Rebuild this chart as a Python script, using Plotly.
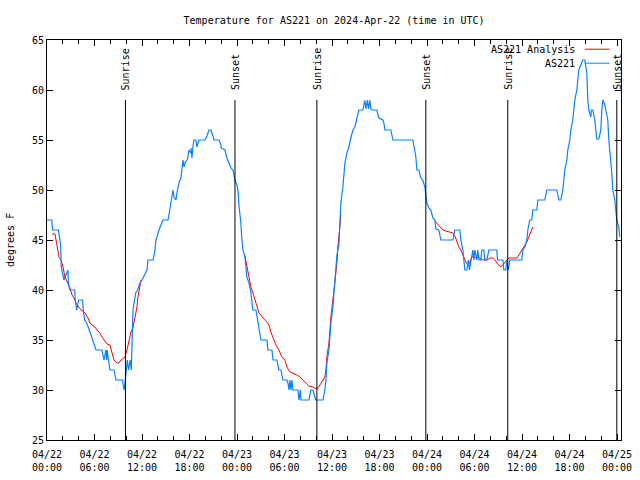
import pandas as pd
import plotly.graph_objects as go

BASE = pd.Timestamp("2024-04-22 00:00")

# Observations (hours since 04/22 00:00 UTC, temperature degF)
obs_hours = [0.0, 0.6, 0.7, 1.43, 1.73, 1.8, 2.15, 2.65, 2.69, 2.9, 3.5, 3.57, 3.75, 4.0, 4.5, 4.58,
             4.76, 5.0, 5.34, 5.77, 6.19, 6.94, 7.2, 7.45, 7.53, 7.6, 7.78, 7.95, 8.46, 8.71, 9.55,
             9.72, 9.9, 10.14, 10.3, 10.5, 10.65, 10.73, 10.86, 11.2, 11.45, 11.74, 12.0, 12.63, 12.75,
             13.4, 13.64, 13.76, 14.14, 14.65, 15.28, 15.4, 15.66, 15.78, 15.91, 16.04, 16.29, 16.41,
             16.67, 16.92, 17.05, 17.17, 17.3, 17.42, 17.68, 17.8, 17.93, 18.18, 18.2, 18.31, 18.43,
             18.56, 18.8, 18.94, 19.07, 19.19, 19.95, 20.2, 20.45, 20.71, 20.96, 21.09, 21.72, 21.97,
             22.0, 22.47, 22.73, 22.85, 22.98, 23.23, 23.48, 23.61, 23.74, 23.99, 24.12, 24.24, 24.49,
             24.62, 24.75, 25.0, 25.13, 25.25, 25.51, 25.76, 25.88, 26.01, 26.39, 26.52, 26.77, 26.89,
             27.02, 27.78, 27.9, 28.41, 28.54, 29.04, 29.29, 29.55, 29.8, 30.3, 30.43, 30.56, 30.68,
             30.81, 30.93, 31.06, 31.69, 31.82, 32.0, 32.07, 33.08, 33.33, 33.59, 33.84, 33.96, 34.85,
             35.1, 35.23, 35.35, 35.61, 35.73, 35.86, 36.11, 36.36, 36.49, 36.62, 36.87, 36.99, 37.12,
             37.37, 37.5, 37.63, 37.88, 38.01, 38.13, 38.38, 38.51, 38.64, 38.89, 39.02, 39.14, 39.39,
             39.9, 40.03, 40.15, 40.28, 40.47, 40.6, 40.78, 40.91, 41.04, 41.67, 41.92, 42.42, 42.55,
             42.68, 43.43, 43.56, 43.69, 46.21, 46.46, 46.59, 46.72, 46.97, 47.22, 47.47, 47.73, 47.85,
             47.98, 48.23, 48.48, 48.74, 48.99, 49.12, 49.49, 49.75, 51.26, 51.52, 52.15, 52.27, 52.53,
             52.65, 52.78, 53.03, 53.22, 53.35, 53.54, 53.79, 53.91, 54.04, 54.29, 54.42, 54.55, 54.8,
             54.92, 55.18, 55.3, 55.56, 55.81, 56.82, 56.9, 57.58, 57.7, 57.95, 58.08, 58.27, 58.46,
             59.97, 60.1, 60.35, 60.61, 60.73, 60.98, 61.24, 61.36, 61.87, 62.0, 62.88, 63.13, 64.39,
             64.65, 64.9, 65.15, 65.28, 65.4, 65.66, 65.78, 66.04, 66.16, 66.41, 66.54, 66.67, 66.92,
             67.05, 67.17, 67.42, 67.68, 67.93, 68.18, 68.31, 68.43, 68.69, 68.75, 68.94, 69.19, 69.32,
             69.44, 69.7, 69.95, 70.08, 70.2, 70.45, 70.58, 70.83, 70.96, 71.21, 71.34, 71.46, 71.72,
             71.84, 71.97, 72.22, 72.35]
obs_temps = [47, 47, 46, 46, 44.5, 42.3, 41, 42, 40.7, 40, 40, 39, 38, 39, 39, 38,
             37, 36.7, 36, 35, 34, 34, 33, 34, 33, 34, 32.7, 32, 32, 31, 31,
             30, 31, 33, 32, 33, 32, 35, 38, 39.7, 40, 40.7, 41, 42, 43,
             43, 44, 45, 46, 47, 47, 47.5, 48.7, 49.7, 50, 49.3, 49, 49.7,
             50.7, 51.2, 52, 53, 52.3, 52.7, 53, 53.3, 54, 53.7, 54.2, 53.2, 54.3,
             55, 55, 54.3, 54.7, 55, 55, 55.4, 56, 56, 55.4, 55, 55, 54.5,
             54.2, 54, 53.2, 53, 52.7, 52.2, 52, 51.5, 51, 50.5, 50, 48.5, 46.7,
             45, 44, 43.3, 42, 41.3, 40.7, 39.7, 38.8, 38, 38, 37.3, 36.3, 35.8,
             35, 35, 34, 34, 33, 33, 32, 32, 31, 31, 30.7, 30, 31,
             30, 31, 30, 30, 29, 30, 29, 29, 30, 30, 29.3, 29, 29,
             30, 31, 32.7, 34, 35.3, 36.7, 38.3, 40.7, 42, 43.5, 44.5, 46.7, 48.7,
             50.3, 51.7, 52.7, 53.7, 54, 54.3, 55.2, 55.8, 56, 56.3, 56.8, 57.3, 58,
             58, 58.7, 59, 58.1, 59, 58.1, 59, 58.1, 58, 58, 57.2, 57, 56.7,
             56, 56, 55.5, 55, 55, 54, 53.3, 52, 52, 51.2, 51, 50.3, 49.3,
             48.7, 48.2, 48, 47.2, 47, 46.1, 46, 45, 45, 46, 46, 45, 44,
             43, 42, 42, 43, 42, 43, 44, 43, 44, 43, 44, 43, 43,
             44, 44, 43, 43, 44, 44, 43, 43, 42, 42, 43, 42, 43,
             43, 44, 44.3, 45, 46, 47, 47, 48, 48, 49, 49, 50, 50,
             49, 49, 50, 51, 52, 53, 54, 55, 56, 57, 58, 59, 60,
             61, 62, 62.5, 63, 63, 61.7, 59, 58, 57.3, 58, 58, 57, 56,
             55.1, 55.1, 56, 58, 59, 58.5, 58, 57, 55, 53, 51.7, 50, 49,
             48, 47, 46.3, 45.3]

# Analysis (three separate runs)
ana1_hours = [0.63, 1.01, 1.14, 1.26, 1.52, 1.77, 2.02, 2.27, 2.65, 2.9, 3.16, 3.41, 3.66, 4.04, 4.29,
              4.67, 4.8, 5.18, 5.43, 5.68, 6.06, 6.31, 6.69, 6.94, 7.32, 7.58, 7.95, 8.21, 8.46, 8.84,
              9.09, 9.34, 9.6, 9.85, 10.1, 10.35, 10.61, 10.86, 11.11, 11.36, 11.49, 11.62, 11.87]
ana1_temps = [45.6, 45.6, 45, 44.3, 43.3, 43, 42.3, 41.3, 40.7, 40.2, 39.5, 39.2, 38.7, 38.3, 38,
              37.8, 37.7, 37.2, 36.7, 36.5, 36.3, 36, 35.7, 35.3, 34.8, 34.6, 34.5, 33.7, 33, 32.7,
              32.7, 33, 33.2, 33.3, 34, 35, 35.8, 36.2, 37.3, 38.3, 39.3, 40, 41]
ana2_hours = [25.0, 25.25, 25.51, 25.76, 26.01, 26.26, 26.52, 26.77, 27.02, 27.27, 27.78, 28.03, 28.28,
              28.66, 28.91, 29.29, 29.67, 30.05, 30.3, 30.68, 31.06, 31.57, 31.94, 32.32, 32.7, 33.08,
              33.59, 34.09, 34.47, 34.85, 35.1, 35.23, 35.35, 35.61, 35.73, 35.86, 36.11, 36.36, 36.62,
              36.74, 36.87, 36.99, 37.12]
ana2_temps = [43.4, 42.3, 41.3, 40.3, 39.7, 39, 38.3, 37.7, 37.5, 37.2, 36.8, 36.5, 35.8,
              35, 34.5, 34, 33.3, 33, 32.3, 31.8, 31.7, 31.5, 31.3, 31, 30.7, 30.4,
              30.3, 30.1, 30.5, 31, 31.3, 32, 33.3, 34.7, 36, 37.3, 39, 40.7, 42.7,
              44.3, 45.3, 46.7, 47.5]
ana3_hours = [48.99, 49.37, 49.62, 50.0, 50.38, 50.88, 51.26, 51.52, 51.77, 52.02, 52.27, 52.4, 52.65,
              52.9, 53.16, 53.41, 53.66, 53.91, 54.17, 54.42, 54.67, 55.05, 55.56, 55.93, 56.31, 56.57,
              56.82, 57.07, 57.32, 57.58, 57.83, 58.08, 58.33, 58.84, 59.34, 59.6, 59.85, 60.1, 60.35,
              60.61, 60.86, 61.11, 61.36]
ana3_temps = [46.9, 46.6, 46.3, 46, 45.9, 45.8, 45.7, 45.4, 44.8, 44.3, 44, 43.7, 43.3,
              42.8, 42.5, 42.8, 43.3, 43.3, 43.2, 43.3, 43.2, 43, 43, 43.2, 43.2, 43,
              42.7, 42.5, 42.3, 42.5, 42.8, 43, 43.2, 43.2, 43.2, 43.5, 43.8, 44.2, 44.4,
              44.8, 45.3, 45.8, 46.3]

# Sun events (hours since 04/22 00:00 UTC)
event_names = ["Sunrise", "Sunset", "Sunrise", "Sunset", "Sunrise", "Sunset"]
event_hours = [9.91, 23.74, 34.09, 47.85, 58.2, 71.97]

y_ticks = [25, 30, 35, 40, 45, 50, 55, 60, 65]
x_tick_hours = list(range(0, 73, 6))

RED = "#ff0000"
BLUE = "#0a80ff"
FONT = "DejaVu Sans Mono"


def to_time(hours):
    return [BASE + pd.Timedelta(hours=h) for h in hours]


ana_x, ana_y = [], []
for hs, ts in [(ana1_hours, ana1_temps), (ana2_hours, ana2_temps), (ana3_hours, ana3_temps)]:
    ana_x += to_time(hs) + [None]
    ana_y += ts + [None]

fig = go.Figure()
fig.add_trace(go.Scatter(x=ana_x, y=ana_y, mode="lines", name="AS221 Analysis",
                         line=dict(color=RED, width=1), connectgaps=False, showlegend=False))
fig.add_trace(go.Scatter(x=to_time(obs_hours), y=obs_temps, mode="lines", name="AS221",
                         line=dict(color=BLUE, width=1.2), showlegend=False))

label_top = 59.8
for name, h in zip(event_names, event_hours):
    t = BASE + pd.Timedelta(hours=h)
    fig.add_shape(type="line", x0=t, x1=t, y0=25, y1=59, xref="x", yref="y",
                  line=dict(color="black", width=1))
    fig.add_annotation(x=t, y=label_top, xref="x", yref="y", text=name, textangle=-90,
                       showarrow=False, xanchor="center", yanchor="bottom",
                       font=dict(family=FONT, size=10, color="black"))

# legend (gnuplot style: text then sample)
for i, (name, color) in enumerate([("AS221 Analysis", RED), ("AS221", BLUE)]):
    yy = 0.977 - i * 0.035
    fig.add_annotation(x=0.923, y=yy, xref="paper", yref="paper", text=name, showarrow=False,
                       xanchor="right", yanchor="middle", font=dict(family=FONT, size=10, color="black"))
    fig.add_shape(type="line", x0=0.937, x1=0.98, y0=yy, y1=yy, xref="paper", yref="paper",
                  line=dict(color=color, width=1))

# y axis title placed like gnuplot
fig.add_annotation(x=0, y=0.5, xref="paper", yref="paper", text="degrees F", textangle=-90,
                   showarrow=False, xanchor="center", yanchor="middle", xshift=-37,
                   font=dict(family=FONT, size=10, color="black"))

tick_times = to_time(x_tick_hours)
tick_text = [t.strftime("%m/%d") + "<br>" + t.strftime("%H:%M") for t in tick_times]

fig.update_layout(
    width=640, height=480,
    margin=dict(l=47, r=19, t=40, b=40),
    paper_bgcolor="white", plot_bgcolor="white",
    title=dict(text="Temperature for AS221 on 2024-Apr-22 (time in UTC)", x=0.522, xanchor="center",
               y=0.958, yanchor="middle", font=dict(family=FONT, size=10, color="black")),
    font=dict(family=FONT, size=10, color="black"),
)
fig.update_xaxes(
    type="date", automargin=False,
    range=[BASE, BASE + pd.Timedelta(hours=72.5)],
    tickvals=tick_times, ticktext=tick_text, ticklabelstandoff=5,
    ticks="inside", ticklen=6, tickcolor="black",
    minor=dict(dtick=2 * 3600 * 1000, ticks="inside", ticklen=4, tickcolor="black"),
    showline=True, linecolor="black", linewidth=1, mirror="allticks",
    showgrid=False, zeroline=False,
    tickfont=dict(family=FONT, size=10),
)
fig.update_yaxes(
    range=[25, 65], tickvals=y_ticks, automargin=False,
    ticks="inside", ticklen=6, tickcolor="black",
    showline=True, linecolor="black", linewidth=1, mirror="allticks",
    showgrid=False, zeroline=False,
    tickfont=dict(family=FONT, size=10),
)

fig.write_html("out.html", config={"displayModeBar": False},
               post_script="document.body.style.margin='0px';")
